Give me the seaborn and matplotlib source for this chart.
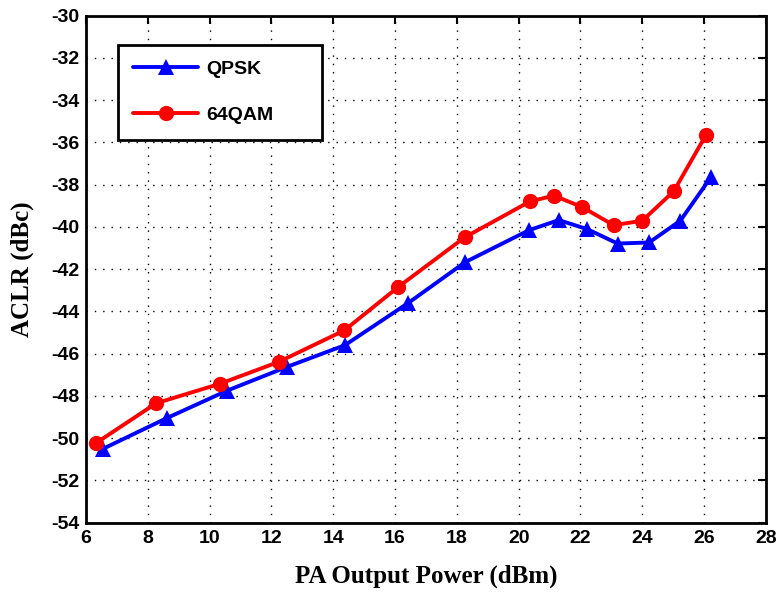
import numpy as np
import pandas as pd
import matplotlib.pyplot as plt
import seaborn as sns

# values
qpsk_x = [6.56, 8.62, 10.57, 12.5, 14.38, 16.43, 18.27, 20.33, 21.3, 22.22, 23.2, 24.22, 25.23, 26.23]
qpsk_y = [-50.5, -49.05, -47.75, -46.63, -45.6, -43.6, -41.67, -40.16, -39.68, -40.11, -40.79, -40.74, -39.71, -37.63]
qam_x = [6.32, 8.27, 10.33, 12.24, 14.36, 16.1, 18.25, 20.36, 21.14, 22.06, 23.07, 24.0, 25.02, 26.06]
qam_y = [-50.24, -48.35, -47.43, -46.39, -44.9, -42.85, -40.5, -38.8, -38.52, -39.07, -39.92, -39.71, -38.31, -35.65]
x_ticks = list(range(6, 29, 2))
y_ticks = list(range(-54, -29, 2))

df = pd.DataFrame({
    'power': qpsk_x + qam_x,
    'aclr': qpsk_y + qam_y,
    'mod': ['QPSK'] * len(qpsk_x) + ['64QAM'] * len(qam_x),
})

sns.set_style('white')
plt.rcParams['font.family'] = ['Liberation Sans', 'DejaVu Sans']
plt.rcParams['axes.unicode_minus'] = False
plt.rcParams['text.color'] = 'black'
plt.rcParams['xtick.color'] = 'black'
plt.rcParams['ytick.color'] = 'black'
plt.rcParams['axes.labelcolor'] = 'black'

fig = plt.figure(figsize=(7.78, 6), dpi=100)
ax = fig.add_axes([0.1105, 0.129, 0.874, 0.845])

sns.lineplot(data=df, x='power', y='aclr', hue='mod', style='mod',
             palette={'QPSK': '#0000ff', '64QAM': '#ff0000'},
             markers={'QPSK': '^', '64QAM': 'o'}, dashes=False,
             linewidth=2.8, markersize=11, markeredgewidth=0,
             sort=False, ax=ax)

ax.set_xlim(6, 28)
ax.set_ylim(-54, -30)
ax.set_xticks(x_ticks)
ax.set_yticks(y_ticks)
ax.tick_params(direction='in', length=6, width=1.5, top=True, right=True,
               labelsize=14, pad=5)
for lab in ax.get_xticklabels() + ax.get_yticklabels():
    lab.set_fontweight('bold')
ax.grid(True, linestyle=(0, (1, 5)), color='black', linewidth=1.0)
for sp in ax.spines.values():
    sp.set_linewidth(2)
    sp.set_color('black')

ax.set_xlabel('PA Output Power (dBm)', family='Liberation Serif',
              fontweight='bold', fontsize=18, labelpad=13)
ax.set_ylabel('ACLR (dBc)', family='Liberation Serif',
              fontweight='bold', fontsize=18, labelpad=12)

leg = ax.legend(loc='upper left', bbox_to_anchor=(0.047, 0.942, 0.30, 0.0),
                mode='expand', frameon=True,
                fancybox=False, prop={'weight': 'bold', 'size': 14},
                handlelength=3.3, borderpad=0.8, labelspacing=1.45,
                handletextpad=0.45, borderaxespad=0)
leg.get_frame().set_edgecolor('black')
leg.get_frame().set_linewidth(2)
leg.get_frame().set_alpha(1)

fig.savefig('out.png', dpi=100)
